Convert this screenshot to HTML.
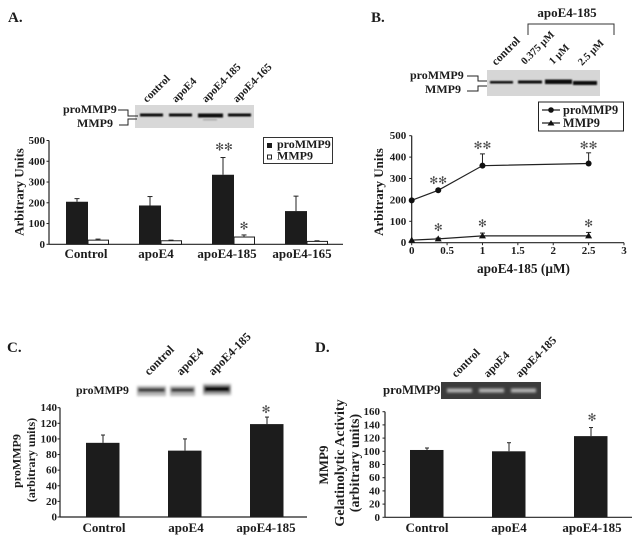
<!DOCTYPE html>
<html>
<head>
<meta charset="utf-8">
<title>MMP9 figure</title>
<style>
html,body{margin:0;padding:0;background:#fff;}
svg{display:block;}
text{font-family:"Liberation Serif",serif;font-weight:bold;fill:#1c1c1c;}
.star{font-family:"DejaVu Sans",sans-serif;font-weight:normal;fill:#444;}
</style>
</head>
<body>
<svg id="fig" xmlns="http://www.w3.org/2000/svg" width="637" height="543" viewBox="0 0 637 543">
<defs>
<filter id="b1" x="-20%" y="-100%" width="140%" height="300%"><feGaussianBlur stdDeviation="0.7"/></filter>
<filter id="b2" x="-20%" y="-100%" width="140%" height="300%"><feGaussianBlur stdDeviation="1.2"/></filter>
</defs>
<g id="blots">
<g>
<rect x="135" y="105" width="119" height="23" fill="#d8d8d8"/>
<g filter="url(#b1)" fill="#111">
<rect x="140" y="113.5" width="23" height="3"/><rect x="169" y="113.5" width="23" height="3"/><rect x="198" y="113.5" width="25" height="4"/><rect x="228" y="113.5" width="23" height="3"/>
<rect x="203" y="119" width="14" height="1.5" fill="#aaa"/>
</g>
</g>
<g>
<rect x="487" y="70" width="113" height="26" fill="#d6d6d6"/>
<g filter="url(#b1)" fill="#111">
<rect x="490" y="81" width="23" height="2.5"/><rect x="518" y="80.5" width="24" height="3"/><rect x="545" y="79.5" width="27" height="4.5"/><rect x="573" y="81" width="24" height="4"/>
</g>
</g>
<g>
<g filter="url(#b2)">
<rect x="137" y="386" width="29" height="10" fill="#b8b8b8"/><rect x="170" y="386" width="25" height="10" fill="#b8b8b8"/><rect x="203" y="384" width="28" height="11" fill="#aaa"/>
<rect x="138" y="388" width="27" height="4" fill="#222"/><rect x="171" y="388" width="23" height="4" fill="#222"/><rect x="204" y="386" width="26" height="6" fill="#000"/>
</g>
</g>
<g>
<rect x="441" y="382" width="100" height="17" fill="#3c3c3c"/>
<g filter="url(#b2)" fill="#b4b4b4">
<rect x="447" y="388.5" width="25" height="4"/><rect x="479" y="388.5" width="25" height="4"/><rect x="511" y="388.5" width="25" height="4"/>
</g>
</g>
</g>
</svg>
<script>
// Panel A
var aCategories = ["Control", "apoE4", "apoE4-185", "apoE4-165"];
var aProValues = [205, 187, 335, 160];
var aProErrTop = [220, 230, 418, 232];
var aMmpValues = [20, 17, 35, 14];
var aMmpErrTop = [25, 20, 45, 17];
var aTicks = [0, 100, 200, 300, 400, 500];
// Panel B
var bDoses = [0, 0.375, 1, 2.5];
var bProValues = [198, 245, 360, 370];
var bProErrTop = [198, 245, 415, 420];
var bMmpValues = [12, 18, 32, 32];
var bMmpErrTop = [12, 22, 45, 48];
var bYTicks = [0, 100, 200, 300, 400, 500];
var bXTicks = [0, 0.5, 1, 1.5, 2, 2.5, 3];
// Panel C
var cCategories = ["Control", "apoE4", "apoE4-185"];
var cValues = [95, 85, 119];
var cErrTop = [105, 100, 128];
var cTicks = [0, 20, 40, 60, 80, 100, 120, 140];
// Panel D
var dCategories = ["Control", "apoE4", "apoE4-185"];
var dValues = [102, 100, 123];
var dErrTop = [105, 113, 136];
var dTicks = [0, 20, 40, 60, 80, 100, 120, 140, 160];

var svg = document.getElementById('fig');
function mk(tag, attrs, text, parent) {
  var e = document.createElementNS('http://www.w3.org/2000/svg', tag);
  for (var k in attrs) e.setAttribute(k, attrs[k]);
  if (text !== undefined && text !== null) e.textContent = text;
  (parent || svg).appendChild(e);
  return e;
}
function scale(d0, d1, r0, r1) {
  return function (v) { return r0 + (v - d0) * (r1 - r0) / (d1 - d0); };
}
function label(x, y, str, size, anchor, name, rot) {
  var a = {x: x, y: y, 'font-size': size, 'text-anchor': anchor || 'start'};
  if (rot) a.transform = 'rotate(' + rot + ' ' + x + ' ' + y + ')';
  var t = mk('text', a, str);
  
  
  return t;
}
function line(x1, y1, x2, y2, name, w, col) {
  var l = mk('line', {x1: x1, y1: y1, x2: x2, y2: y2, stroke: col || '#222', 'stroke-width': w || 1});
  
  
  return l;
}
function star(x, yc, n) {
  var s = '';
  for (var i = 0; i < n; i++) s += '\u273B';
  var t = mk('text', {x: x, y: yc + 3.2, 'font-size': 10.5, 'text-anchor': 'middle', 'class': 'star'}, s);
  
  
}
function yAxis(x, y, ticks, xEnd, fs, labelGap) {
  line(x, y(ticks[ticks.length - 1]), x, y(0), 'y-axis', 1.2);
  line(x, y(0), xEnd, y(0), 'x-axis', 1.2);
  ticks.forEach(function (v) {
    line(x - 2.5, y(v), x, y(v), 'y-tick', 1);
    label(x - labelGap, y(v) + 3.5, String(v), fs, 'end', 'y-tick-label');
  });
}
function bar(x, w, top, y0, fill, name) {
  var r = mk('rect', {x: x, y: top, width: w, height: y0 - top, fill: fill, stroke: '#1c1c1c', 'stroke-width': fill === '#fff' ? 1 : 0});
  
  
}
function errBar(cx, yVal, yTop, capW) {
  line(cx, yVal, cx, yTop, 'error-bar', 1);
  line(cx - capW, yTop, cx + capW, yTop, 'error-cap', 1);
}

/* Panel A */
label(8, 22, 'A.', 15, 'start', 'panel-a-label');
var ya = scale(0, 500, 244.3, 140.5);
yAxis(49, ya, aTicks, 343, 11, 4);
var aStart = [66, 139, 212, 285];
var aLabelX = [86, 156, 227, 302];
aCategories.forEach(function (c, i) {
  errBar(aStart[i] + 11, ya(aProValues[i]), ya(aProErrTop[i]), 2.5);
  bar(aStart[i], 22, ya(aProValues[i]), ya(0), '#1c1c1c', 'bar-promMP9-' + c);
  errBar(aStart[i] + 32, ya(aMmpValues[i]), ya(aMmpErrTop[i]), 2.5);
  bar(aStart[i] + 22, 20.5, ya(aMmpValues[i]), ya(0), '#fff', 'bar-mmp9-' + c);
  label(aLabelX[i], 258, c, 13, 'middle', 'x-category-label');
});
label(23.5, 192, 'Arbitrary Units', 13, 'middle', 'y-axis-title', -90);
star(224, 147.5, 2);
star(244, 226.5, 1);
var lgA = mk('rect', {x: 263.5, y: 137.5, width: 69, height: 26, fill: '#fff', stroke: '#333', 'stroke-width': 1});


var lk1 = mk('rect', {x: 267, y: 143, width: 5, height: 5, fill: '#1c1c1c'});


var lk2 = mk('rect', {x: 267.5, y: 155, width: 4, height: 4, fill: '#fff', stroke: '#222'});


label(277, 148, 'proMMP9', 12, 'start', 'legend-a-promMP9');
label(277, 159.5, 'MMP9', 12, 'start', 'legend-a-mmp9');
label(63, 113, 'proMMP9', 12, 'start', 'blot-a-promMP9-label');
label(77, 127, 'MMP9', 12, 'start', 'blot-a-mmp9-label');
var cA = mk('path', {d: 'M118 110H128V116H138M119 125H128V119H137', fill: 'none', stroke: '#222', 'stroke-width': 1});


[['control', 147], ['apoE4', 176], ['apoE4-185', 206], ['apoE4-165', 237]].forEach(function (p) {
  label(p[1], 103, p[0], 11, 'start', 'lane-label-a', -45);
});

/* Panel B */
label(371, 22, 'B.', 15, 'start', 'panel-b-label');
label(567, 17, 'apoE4-185', 13, 'middle', 'dose-bracket-label');
var br = mk('path', {d: 'M528 35V24H614V35', fill: 'none', stroke: '#333', 'stroke-width': 1});


[['control', 496, 66, 11.5], ['0.375 \u00B5M', 525, 65, 10.5], ['1 \u00B5M', 553, 65, 10.5], ['2.5 \u00B5M', 582, 66, 10.5]].forEach(function (p) {
  label(p[1], p[2], p[0], p[3], 'start', 'lane-label-b', -45);
});
label(410, 79, 'proMMP9', 12, 'start', 'blot-b-promMP9-label');
label(425, 93, 'MMP9', 12, 'start', 'blot-b-mmp9-label');
var cB = mk('path', {d: 'M467 76H478V81H487M467 91H478V86H487', fill: 'none', stroke: '#222', 'stroke-width': 1});


var yb = scale(0, 500, 242.7, 135.7);
var xb = scale(0, 3, 411.7, 624);
yAxis(411.7, yb, bYTicks, 624, 11, 5.5);
bXTicks.forEach(function (v) {
  line(xb(v), yb(0), xb(v), yb(0) + 2.5, 'x-tick', 1);
  label(xb(v), 254, String(v), 11, 'middle', 'x-tick-label');
});
label(523.5, 273, 'apoE4-185 (\u00B5M)', 13.3, 'middle', 'x-axis-title');
label(383, 192, 'Arbitrary Units', 13, 'middle', 'y-axis-title', -90);
function poly(vals, name) {
  var pts = bDoses.map(function (d, i) { return xb(d) + ',' + yb(vals[i]); }).join(' ');
  var p = mk('polyline', {points: pts, fill: 'none', stroke: '#222', 'stroke-width': 1.2});
  
  
}
poly(bProValues, 'line-promMP9');
poly(bMmpValues, 'line-mmp9');
bDoses.forEach(function (d, i) {
  if (bProErrTop[i] > bProValues[i]) errBar(xb(d), yb(bProValues[i]), yb(bProErrTop[i]), 2.5);
  if (bMmpErrTop[i] > bMmpValues[i]) errBar(xb(d), yb(bMmpValues[i]), yb(bMmpErrTop[i]), 2.5);
  var c = mk('circle', {cx: xb(d), cy: yb(bProValues[i]), r: 3, fill: '#111'});
  
  
  var X = xb(d), Y = yb(bMmpValues[i]);
  var t = mk('polygon', {points: X + ',' + (Y - 3.5) + ' ' + (X + 3.5) + ',' + (Y + 2.5) + ' ' + (X - 3.5) + ',' + (Y + 2.5), fill: '#111'});
  
  
});
star(xb(0.375), 181, 2);
star(xb(1), 145.7, 2);
star(xb(2.5), 145.7, 2);
star(xb(0.375), 228, 1);
star(xb(1), 224, 1);
star(xb(2.5), 224, 1);
var lgB = mk('rect', {x: 538.5, y: 102, width: 85, height: 29, fill: '#fff', stroke: '#222', 'stroke-width': 1});


line(542, 110, 560, 110, 'legend-b-line-promMP9', 1.2);
line(542, 123, 560, 123, 'legend-b-line-mmp9', 1.2);
var lc = mk('circle', {cx: 551, cy: 110, r: 2.8, fill: '#111'});


var lt = mk('polygon', {points: '551,120 554.5,125.5 547.5,125.5', fill: '#111'});


label(563, 114, 'proMMP9', 12.3, 'start', 'legend-b-promMP9');
label(563, 127, 'MMP9', 12.3, 'start', 'legend-b-mmp9');

/* Panel C */
label(7, 352, 'C.', 15, 'start', 'panel-c-label');
[['control', 149], ['apoE4', 181], ['apoE4-185', 213]].forEach(function (p) {
  label(p[1], 376, p[0], 12, 'start', 'lane-label-c', -45);
});
label(76, 394, 'proMMP9', 11.8, 'start', 'blot-c-label');
var yc = scale(0, 140, 517, 407.7);
yAxis(60, yc, cTicks, 307, 11, 3);
var cStart = [86, 168, 250];
var cLabelX = [104, 186, 266];
cCategories.forEach(function (c, i) {
  errBar(cStart[i] + 17, yc(cValues[i]), yc(cErrTop[i]), 2);
  bar(cStart[i], 33.5, yc(cValues[i]), yc(0), '#1c1c1c', 'bar-c-' + c);
  label(cLabelX[i], 532, c, 13, 'middle', 'x-category-label');
});
label(20.5, 461, 'proMMP9', 12, 'middle', 'y-axis-title', -90);
label(35, 460, '(arbitrary units)', 12, 'middle', 'y-axis-subtitle', -90);
star(266, 410, 1);

/* Panel D */
label(315, 352, 'D.', 15, 'start', 'panel-d-label');
[['control', 456], ['apoE4', 488], ['apoE4-185', 520]].forEach(function (p) {
  label(p[1], 378, p[0], 11.5, 'start', 'lane-label-d', -45);
});
label(383, 394, 'proMMP9', 12.8, 'start', 'blot-d-label');
var yd = scale(0, 160, 517.3, 411.7);
yAxis(385, yd, dTicks, 632, 11, 5);
var dStart = [410, 492, 574];
var dLabelX = [427, 509, 592];
dCategories.forEach(function (c, i) {
  errBar(dStart[i] + 17, yd(dValues[i]), yd(dErrTop[i]), 2);
  bar(dStart[i], 33.5, yd(dValues[i]), yd(0), '#1c1c1c', 'bar-d-' + c);
  label(dLabelX[i], 532, c, 13, 'middle', 'x-category-label');
});
label(328, 465, 'MMP9', 13, 'middle', 'y-axis-title-line-1', -90);
label(344, 463, 'Gelatinolytic Activity', 14, 'middle', 'y-axis-title-line-2', -90);
label(359, 463, '(arbitrary units)', 14, 'middle', 'y-axis-subtitle', -90);
star(592, 418, 1);
</script>
</body>
</html>
